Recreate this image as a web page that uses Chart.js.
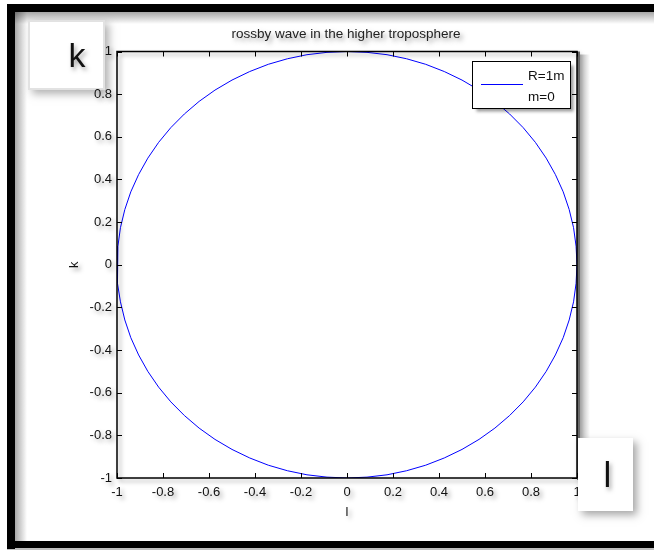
<!DOCTYPE html>
<html>
<head>
<meta charset="utf-8">
<script src="https://cdn.jsdelivr.net/npm/chart.js@4/dist/chart.umd.min.js"></script>
<style>
html,body{margin:0;padding:0;background:#fff;}
#wrap{position:relative;width:654px;height:551px;}
</style>
</head>
<body>
<div id="wrap"><canvas id="c" width="654" height="551"></canvas></div>
<script>
// ---- data ----
const chartTitle = "rossby wave in the higher troposphere";
const xAxisTitle = "l";
const yAxisTitle = "k";
const legendLines = ["R=1m", "m=0"];
const xTickValues = [-1, -0.8, -0.6, -0.4, -0.2, 0, 0.2, 0.4, 0.6, 0.8, 1];
const yTickValues = [-1, -0.8, -0.6, -0.4, -0.2, 0, 0.2, 0.4, 0.6, 0.8, 1];
const lValues = [1.000,0.996,0.985,0.966,0.940,0.906,0.866,0.819,0.766,0.707,0.643,0.574,0.500,0.423,0.342,0.259,0.174,0.087,0.000,
  -0.087,-0.174,-0.259,-0.342,-0.423,-0.500,-0.574,-0.643,-0.707,-0.766,-0.819,-0.866,-0.906,-0.940,-0.966,-0.985,-0.996,-1.000,
  -0.996,-0.985,-0.966,-0.940,-0.906,-0.866,-0.819,-0.766,-0.707,-0.643,-0.574,-0.500,-0.423,-0.342,-0.259,-0.174,-0.087,0.000,
  0.087,0.174,0.259,0.342,0.423,0.500,0.574,0.643,0.707,0.766,0.819,0.866,0.906,0.940,0.966,0.985,0.996,1.000];
const kValues = [0.000,0.087,0.174,0.259,0.342,0.423,0.500,0.574,0.643,0.707,0.766,0.819,0.866,0.906,0.940,0.966,0.985,0.996,1.000,
  0.996,0.985,0.966,0.940,0.906,0.866,0.819,0.766,0.707,0.643,0.574,0.500,0.423,0.342,0.259,0.174,0.087,0.000,
  -0.087,-0.174,-0.259,-0.342,-0.423,-0.500,-0.574,-0.643,-0.707,-0.766,-0.819,-0.866,-0.906,-0.940,-0.966,-0.985,-0.996,-1.000,
  -0.996,-0.985,-0.966,-0.940,-0.906,-0.866,-0.819,-0.766,-0.707,-0.643,-0.574,-0.500,-0.423,-0.342,-0.259,-0.174,-0.087,0.000];
const cornerLabels = ["k", "l"];

const FONT = "'Liberation Sans', Arial, Helvetica, sans-serif";
const points = lValues.map((l, i) => ({x: l, y: kValues[i]}));

function setShadow(ctx, on) {
  if (on) {
    ctx.shadowColor = 'rgba(0,0,0,0.35)';
    ctx.shadowBlur = 4;
    ctx.shadowOffsetX = 3;
    ctx.shadowOffsetY = 3;
  } else {
    ctx.shadowColor = 'rgba(0,0,0,0)';
    ctx.shadowBlur = 0;
    ctx.shadowOffsetX = 0;
    ctx.shadowOffsetY = 0;
  }
}

const decor = {
  id: 'decor',
  beforeDraw(chart) {
    const ctx = chart.ctx;
    const a = chart.chartArea;
    ctx.save();
    setShadow(ctx, false);
    ctx.fillStyle = '#fff';
    ctx.fillRect(0, 0, 654, 551);
    // inner soft shadows of the frame
    let g = ctx.createLinearGradient(0, 12, 0, 24);
    g.addColorStop(0, 'rgba(0,0,0,0.35)'); g.addColorStop(1, 'rgba(0,0,0,0)');
    ctx.fillStyle = g; ctx.fillRect(15, 12, 639, 12);
    g = ctx.createLinearGradient(15, 0, 27, 0);
    g.addColorStop(0, 'rgba(0,0,0,0.35)'); g.addColorStop(1, 'rgba(0,0,0,0)');
    ctx.fillStyle = g; ctx.fillRect(15, 12, 12, 529);
    // black frame
    ctx.fillStyle = '#000';
    ctx.fillRect(7, 4, 647, 8);
    ctx.fillRect(7, 4, 8, 545);
    ctx.fillRect(7, 541, 647, 7);
    ctx.fillStyle = 'rgba(0,0,0,0.25)';
    ctx.fillRect(7, 548, 647, 2);
    // title
    ctx.save();
    setShadow(ctx, true);
    ctx.fillStyle = '#222';
    ctx.font = '13.5px ' + FONT;
    ctx.textAlign = 'center'; ctx.textBaseline = 'middle';
    ctx.fillText(chartTitle, (a.left + a.right) / 2 - 1, 34);
    ctx.restore();
    // box "k"
    ctx.save();
    ctx.shadowColor = 'rgba(0,0,0,0.3)'; ctx.shadowBlur = 8; ctx.shadowOffsetX = 4; ctx.shadowOffsetY = 4;
    ctx.fillStyle = '#fff';
    ctx.fillRect(28, 20, 77, 70);
    ctx.restore();
    ctx.strokeStyle = '#e2e2e2'; ctx.lineWidth = 2;
    ctx.strokeRect(29, 21, 75, 68);
    ctx.save();
    ctx.shadowColor = 'rgba(0,0,0,0.35)'; ctx.shadowBlur = 4; ctx.shadowOffsetX = 2; ctx.shadowOffsetY = 3;
    ctx.fillStyle = '#111';
    ctx.font = '34px ' + FONT;
    ctx.textAlign = 'center'; ctx.textBaseline = 'alphabetic';
    ctx.fillText(cornerLabels[0], 77, 67);
    ctx.restore();
    ctx.restore();
    setShadow(ctx, true);
  },
  beforeDatasetsDraw(chart) {
    chart.ctx.save();
    setShadow(chart.ctx, false);
  },
  afterDatasetsDraw(chart) {
    chart.ctx.restore();
  },
  afterDraw(chart) {
    const ctx = chart.ctx;
    const a = chart.chartArea;
    const xs = chart.scales.x, ys = chart.scales.y;
    ctx.save();
    setShadow(ctx, false);
    // right/bottom grey edge of the axes box
    ctx.fillStyle = 'rgba(0,0,0,0.55)';
    ctx.fillRect(a.right, a.top, 3, a.bottom - a.top + 2);
    let g = ctx.createLinearGradient(a.right + 3, 0, a.right + 13, 0);
    g.addColorStop(0, 'rgba(0,0,0,0.3)'); g.addColorStop(1, 'rgba(0,0,0,0)');
    ctx.fillStyle = g; ctx.fillRect(a.right + 3, a.top + 3, 10, a.bottom - a.top);
    // axes box
    ctx.save();
    setShadow(ctx, true);
    ctx.strokeStyle = '#000'; ctx.lineWidth = 1.5;
    ctx.strokeRect(a.left, a.top, a.right - a.left, a.bottom - a.top);
    ctx.restore();
    // inward ticks on all four sides
    ctx.strokeStyle = '#000'; ctx.lineWidth = 1;
    const tl = 5;
    ctx.beginPath();
    xs.ticks.forEach(t => {
      const px = Math.round(xs.getPixelForValue(t.value)) + 0.5;
      ctx.moveTo(px, a.bottom); ctx.lineTo(px, a.bottom - tl);
      ctx.moveTo(px, a.top); ctx.lineTo(px, a.top + tl);
    });
    ys.ticks.forEach(t => {
      const py = Math.round(ys.getPixelForValue(t.value)) + 0.5;
      ctx.moveTo(a.left, py); ctx.lineTo(a.left + tl, py);
      ctx.moveTo(a.right, py); ctx.lineTo(a.right - tl, py);
    });
    ctx.stroke();
    // legend
    const ds = chart.data.datasets[0];
    const lx = 472.5, ly = 61.5, lw = 98, lh = 47;
    ctx.save();
    ctx.shadowColor = 'rgba(0,0,0,0.4)'; ctx.shadowBlur = 3; ctx.shadowOffsetX = 3; ctx.shadowOffsetY = 3;
    ctx.fillStyle = '#fff';
    ctx.fillRect(lx, ly, lw, lh);
    ctx.restore();
    ctx.strokeStyle = '#000'; ctx.lineWidth = 1;
    ctx.strokeRect(lx, ly, lw, lh);
    ctx.strokeStyle = ds.borderColor; ctx.lineWidth = 1;
    ctx.beginPath(); ctx.moveTo(481, 84.5); ctx.lineTo(523, 84.5); ctx.stroke();
    ctx.fillStyle = '#111';
    ctx.font = '13.5px ' + FONT;
    ctx.textAlign = 'left'; ctx.textBaseline = 'middle';
    legendLines.forEach((s, i) => ctx.fillText(s, 528, 76 + i * 21));
    // box "l"
    ctx.save();
    ctx.shadowColor = 'rgba(0,0,0,0.35)'; ctx.shadowBlur = 8; ctx.shadowOffsetX = 4; ctx.shadowOffsetY = 4;
    ctx.fillStyle = '#fff';
    ctx.fillRect(578, 438, 55, 73);
    ctx.restore();
    ctx.save();
    ctx.shadowColor = 'rgba(0,0,0,0.35)'; ctx.shadowBlur = 4; ctx.shadowOffsetX = 2; ctx.shadowOffsetY = 3;
    ctx.fillStyle = '#111';
    ctx.font = '35px ' + FONT;
    ctx.textAlign = 'center'; ctx.textBaseline = 'alphabetic';
    ctx.fillText(cornerLabels[1], 607.5, 487);
    ctx.restore();
    ctx.restore();
  }
};

new Chart(document.getElementById('c'), {
  type: 'scatter',
  data: {
    datasets: [{
      label: legendLines.join(' '),
      data: points,
      showLine: true,
      borderColor: '#0000ff',
      borderWidth: 1,
      pointRadius: 0,
      tension: 0,
      fill: false
    }]
  },
  options: {
    responsive: false,
    animation: false,
    devicePixelRatio: 1,
    layout: {padding: {left: 63, right: 77, top: 51.5, bottom: 27.2}},
    plugins: {
      legend: {display: false},
      tooltip: {enabled: false},
      title: {display: false}
    },
    scales: {
      x: {
        type: 'linear', min: -1, max: 1,
        afterBuildTicks: s => { s.ticks = xTickValues.map(v => ({value: v})); },
        afterFit: s => { s.height = 45.8; },
        ticks: {color: '#111', padding: 7, font: {family: FONT, size: 13}, maxRotation: 0, autoSkip: false,
          callback: v => String(v)},
        grid: {display: false, drawTicks: false},
        border: {display: false},
        title: {display: true, text: xAxisTitle, color: '#111', font: {family: FONT, size: 13, lineHeight: 1.2}, padding: {top: 4, bottom: 4}}
      },
      y: {
        type: 'linear', min: -1, max: 1,
        afterBuildTicks: s => { s.ticks = yTickValues.map(v => ({value: v})); },
        afterFit: s => { s.width = 54; },
        ticks: {color: '#111', padding: 5, font: {family: FONT, size: 13}, autoSkip: false,
          callback: v => String(v)},
        grid: {display: false, drawTicks: false},
        border: {display: false},
        title: {display: true, text: yAxisTitle, color: '#111', font: {family: FONT, size: 13, lineHeight: 1.2}, padding: {top: 4, bottom: 4}}
      }
    }
  },
  plugins: [decor]
});
</script>
</body>
</html>
